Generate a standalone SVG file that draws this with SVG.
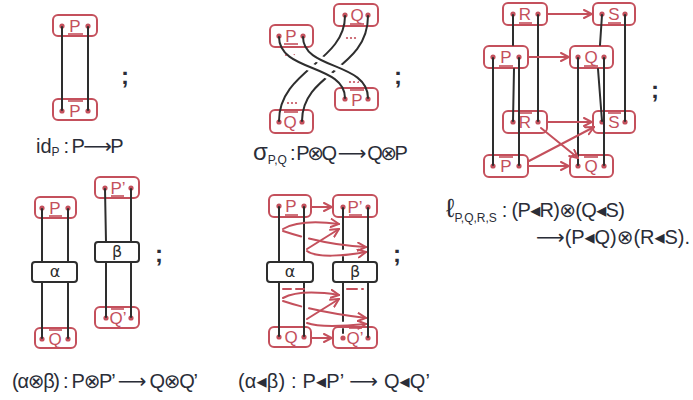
<svg xmlns="http://www.w3.org/2000/svg" width="693" height="400" viewBox="0 0 693 400">
<defs>
<style>
.box{fill:#fff;stroke:#c4505c;stroke-width:2}
.mbox{fill:#fff;stroke:#2e2e2e;stroke-width:2}
.dot{fill:#c4505c}
.lbl{fill:#c4505c;font-family:"Liberation Sans","DejaVu Sans",sans-serif;font-size:17px;text-anchor:middle}
.mlbl{fill:#2e2e2e;font-family:"DejaVu Sans","Liberation Sans",sans-serif;font-size:16px;text-anchor:middle}
.bar{stroke:#c4505c;stroke-width:1.6}
.wire{fill:none;stroke:#2e2e2e;stroke-width:2;stroke-linecap:round}
.halo{fill:none;stroke:#fff;stroke-width:8;stroke-linecap:butt}
.arr{fill:none;stroke:#c4505c;stroke-width:2;stroke-linecap:round;marker-end:url(#ah)}
.red{fill:none;stroke:#c4505c;stroke-width:2;stroke-linecap:round}
.txt{fill:#2a2d38;font-family:"Liberation Sans","DejaVu Sans",sans-serif;font-size:20px}
.semi{fill:#2a2d38;font-family:"Liberation Sans","DejaVu Sans",sans-serif;font-size:24px;font-weight:bold}
</style>
<marker id="ah" viewBox="0 0 10 10" refX="9" refY="5" markerWidth="10" markerHeight="10" markerUnits="userSpaceOnUse" orient="auto">
<path d="M1,1 L9,5 L1,9" fill="none" stroke="#c4505c" stroke-width="2" stroke-linecap="round"/>
</marker>
</defs>
<rect width="693" height="400" fill="#fff"/>

<!-- ===== Identity ===== -->
<g id="id-top"><rect class="box" x="53" y="15" width="44" height="21" rx="5"/><circle class="dot" cx="62" cy="26" r="2.6"/><circle class="dot" cx="88" cy="26" r="2.6"/><text class="lbl" x="75" y="32">P</text><line class="bar" x1="68" y1="34" x2="83" y2="34"/></g>
<g id="id-bot"><rect class="box" x="53" y="99" width="44" height="21" rx="5"/><circle class="dot" cx="62" cy="111" r="2.6"/><circle class="dot" cx="88" cy="111" r="2.6"/><text class="lbl" x="75" y="117">P</text><line class="bar" x1="68" y1="101" x2="83" y2="101"/></g>

<!-- ===== Braid ===== -->
<g id="br-ptop"><rect class="box" x="270" y="25" width="43" height="22" rx="5"/><circle class="dot" cx="279" cy="36" r="2.6"/><circle class="dot" cx="303" cy="36" r="2.6"/><text class="lbl" x="291" y="42">P</text><line class="bar" x1="284" y1="44" x2="298" y2="44"/>
<g class="dot"><circle cx="286" cy="55" r="1.1"/><circle cx="290" cy="55" r="1.1"/><circle cx="294" cy="55" r="1.1"/></g></g>
<g id="br-qtop"><rect class="box" x="334" y="4" width="44" height="22" rx="5"/><circle class="dot" cx="345" cy="15" r="2.6"/><circle class="dot" cx="368" cy="15" r="2.6"/><text class="lbl" x="357" y="21">Q</text><line class="bar" x1="350" y1="24" x2="364" y2="24"/>
<g class="dot"><circle cx="347" cy="38" r="1.1"/><circle cx="351" cy="38" r="1.1"/><circle cx="355" cy="38" r="1.1"/></g></g>
<g id="br-pbot"><rect class="box" x="335" y="88" width="43" height="22" rx="5"/><circle class="dot" cx="345" cy="99" r="2.6"/><circle class="dot" cx="368" cy="99" r="2.6"/><text class="lbl" x="357" y="106">P</text><line class="bar" x1="350" y1="90" x2="364" y2="90"/>
<g class="dot"><circle cx="350" cy="82" r="1.1"/><circle cx="354" cy="82" r="1.1"/><circle cx="358" cy="82" r="1.1"/></g></g>
<g id="br-qbot"><rect class="box" x="270" y="110" width="43" height="23" rx="5"/><circle class="dot" cx="279" cy="122" r="2.6"/><circle class="dot" cx="302" cy="122" r="2.6"/><text class="lbl" x="290" y="128">Q</text><line class="bar" x1="284" y1="112" x2="298" y2="112"/>
<g class="dot"><circle cx="288" cy="103" r="1.1"/><circle cx="292" cy="103" r="1.1"/><circle cx="296" cy="103" r="1.1"/></g></g>

<!-- ===== Top-right ===== -->
<g id="tr-r1"><rect class="box" x="503" y="3" width="44" height="22" rx="5"/><circle class="dot" cx="513" cy="14" r="2.6"/><circle class="dot" cx="538" cy="14" r="2.6"/><text class="lbl" x="525" y="20">R</text><line class="bar" x1="519" y1="23" x2="532" y2="23"/></g>
<g id="tr-s1"><rect class="box" x="593" y="3" width="42" height="22" rx="5"/><circle class="dot" cx="602" cy="14" r="2.6"/><circle class="dot" cx="625" cy="14" r="2.6"/><text class="lbl" x="614" y="20">S</text><line class="bar" x1="608" y1="23" x2="621" y2="23"/></g>
<g id="tr-p1"><rect class="box" x="484" y="46" width="44" height="22" rx="5"/><circle class="dot" cx="493" cy="57" r="2.6"/><circle class="dot" cx="519" cy="57" r="2.6"/><text class="lbl" x="506" y="63">P</text><line class="bar" x1="499" y1="66" x2="513" y2="66"/></g>
<g id="tr-q1"><rect class="box" x="570" y="46" width="43" height="22" rx="5"/><circle class="dot" cx="578" cy="57" r="2.6"/><circle class="dot" cx="604" cy="57" r="2.6"/><text class="lbl" x="591" y="63">Q</text><line class="bar" x1="584" y1="66" x2="598" y2="66"/></g>
<g id="tr-r2"><rect class="box" x="503" y="111" width="44" height="22" rx="5"/><circle class="dot" cx="513" cy="122" r="2.6"/><circle class="dot" cx="538" cy="122" r="2.6"/><text class="lbl" x="525" y="128">R</text><line class="bar" x1="519" y1="113" x2="532" y2="113"/></g>
<g id="tr-s2"><rect class="box" x="593" y="111" width="42" height="22" rx="5"/><circle class="dot" cx="602" cy="122" r="2.6"/><circle class="dot" cx="625" cy="122" r="2.6"/><text class="lbl" x="614" y="128">S</text><line class="bar" x1="608" y1="113" x2="621" y2="113"/></g>
<g id="tr-p2"><rect class="box" x="484" y="155" width="44" height="22" rx="5"/><circle class="dot" cx="493" cy="166" r="2.6"/><circle class="dot" cx="519" cy="166" r="2.6"/><text class="lbl" x="506" y="172">P</text><line class="bar" x1="499" y1="157" x2="513" y2="157"/></g>
<g id="tr-q2"><rect class="box" x="570" y="155" width="43" height="22" rx="5"/><circle class="dot" cx="578" cy="166" r="2.6"/><circle class="dot" cx="604" cy="166" r="2.6"/><text class="lbl" x="591" y="172">Q</text><line class="bar" x1="584" y1="157" x2="598" y2="157"/></g>

<!-- ===== Bottom-left ===== -->
<g id="bl-p"><rect class="box" x="35" y="197" width="41" height="21" rx="5"/><circle class="dot" cx="42" cy="208" r="2.6"/><circle class="dot" cx="68" cy="208" r="2.6"/><text class="lbl" x="55" y="214">P</text><line class="bar" x1="49" y1="216" x2="62" y2="216"/></g>
<g id="bl-alpha"><rect class="mbox" x="32" y="262" width="45" height="20" rx="3"/><text class="mlbl" x="55" y="277">α</text></g>
<g id="bl-q"><rect class="box" x="35" y="328" width="41" height="20" rx="5"/><circle class="dot" cx="42" cy="339" r="2.6"/><circle class="dot" cx="68" cy="339" r="2.6"/><text class="lbl" x="55" y="345">Q</text><line class="bar" x1="49" y1="330" x2="62" y2="330"/></g>
<g id="bl-pp"><rect class="box" x="95" y="177" width="44" height="21" rx="5"/><circle class="dot" cx="105" cy="188" r="2.6"/><circle class="dot" cx="131" cy="188" r="2.6"/><text class="lbl" x="118" y="194">P’</text><line class="bar" x1="111" y1="196" x2="124" y2="196"/></g>
<g id="bl-beta"><rect class="mbox" x="95" y="242" width="44" height="20" rx="3"/><text class="mlbl" x="117" y="257">β</text></g>
<g id="bl-qq"><rect class="box" x="95" y="307" width="44" height="21" rx="5"/><circle class="dot" cx="106" cy="318" r="2.6"/><circle class="dot" cx="131" cy="318" r="2.6"/><text class="lbl" x="118" y="324">Q’</text><line class="bar" x1="111" y1="309" x2="124" y2="309"/></g>

<!-- ===== Bottom-middle ===== -->
<g id="bm-p"><rect class="box" x="269" y="195" width="42" height="22" rx="5"/><circle class="dot" cx="279" cy="206" r="2.6"/><circle class="dot" cx="304" cy="206" r="2.6"/><text class="lbl" x="291" y="212">P</text><line class="bar" x1="285" y1="215" x2="298" y2="215"/></g>
<g id="bm-pp"><rect class="box" x="333" y="195" width="44" height="22" rx="5"/><circle class="dot" cx="343" cy="207" r="2.6"/><circle class="dot" cx="368" cy="207" r="2.6"/><text class="lbl" x="355" y="213">P’</text><line class="bar" x1="349" y1="215" x2="362" y2="215"/></g>
<g id="bm-alpha"><rect class="mbox" x="267" y="262" width="46" height="20" rx="3"/><text class="mlbl" x="290" y="277">α</text></g>
<g id="bm-beta"><rect class="mbox" x="333" y="262" width="44" height="20" rx="3"/><text class="mlbl" x="355" y="277">β</text></g>
<g id="bm-q"><rect class="box" x="269" y="327" width="42" height="20" rx="5"/><circle class="dot" cx="279" cy="337" r="2.6"/><circle class="dot" cx="304" cy="337" r="2.6"/><text class="lbl" x="291" y="343">Q</text><line class="bar" x1="285" y1="327" x2="298" y2="327"/></g>
<g id="bm-qq"><rect class="box" x="333" y="327" width="44" height="21" rx="5"/><circle class="dot" cx="343" cy="338" r="2.6"/><circle class="dot" cx="368" cy="338" r="2.6"/><text class="lbl" x="355" y="344">Q’</text><line class="bar" x1="349" y1="328" x2="362" y2="328"/></g>

<!-- ===== Connectors ===== -->
<g id="connectors">
<!-- identity -->
<line class="wire" x1="62" y1="27" x2="62" y2="110"/>
<line class="wire" x1="88" y1="27" x2="88" y2="110"/>
<!-- braid: Q strands (under) -->
<path class="wire" d="M345,16 C345,62 279,70 279,121"/>
<path class="wire" d="M368,16 C368,70 302,72 302,121"/>
<!-- braid: P strands (over) -->
<path class="halo" pathLength="100" stroke-dasharray="0 22 56 100" d="M279,37 C279,72 345,64 345,98"/>
<path class="halo" pathLength="100" stroke-dasharray="0 22 56 100" d="M303,37 C303,70 368,62 368,98"/>
<path class="wire" d="M279,37 C279,72 345,64 345,98"/>
<path class="wire" d="M303,37 C303,70 368,62 368,98"/>
<!-- top-right wires -->
<line class="wire" x1="513" y1="15" x2="513" y2="45"/>
<line class="wire" x1="514" y1="69" x2="513" y2="121"/>
<line class="wire" x1="538" y1="15" x2="538" y2="121"/>
<line class="wire" x1="602" y1="15" x2="600" y2="45"/>
<line class="wire" x1="598" y1="69" x2="602" y2="121"/>
<line class="wire" x1="625" y1="15" x2="625" y2="121"/>
<line class="wire" x1="493" y1="58" x2="493" y2="165"/>
<line class="wire" x1="519" y1="58" x2="519" y2="165"/>
<line class="wire" x1="578" y1="58" x2="578" y2="165"/>
<line class="wire" x1="604" y1="58" x2="604" y2="165"/>
<!-- top-right red arrows -->
<path class="arr" d="M548,14 L592,14"/>
<path class="arr" d="M529,57 L569,57"/>
<path class="arr" d="M548,122 L592,122"/>
<path class="arr" d="M541,128 L578,158"/>
<path class="arr" d="M529,166 L569,166"/>
<path class="arr" d="M529,161 L594,127"/>
<!-- bottom-left wires -->
<line class="wire" x1="42" y1="209" x2="42" y2="262"/>
<line class="wire" x1="68" y1="209" x2="68" y2="262"/>
<line class="wire" x1="42" y1="282" x2="42" y2="338"/>
<line class="wire" x1="68" y1="282" x2="68" y2="338"/>
<line class="wire" x1="105" y1="189" x2="106" y2="242"/>
<line class="wire" x1="131" y1="189" x2="131" y2="242"/>
<line class="wire" x1="106" y1="262" x2="106" y2="317"/>
<line class="wire" x1="131" y1="262" x2="131" y2="317"/>
<!-- bottom-middle wires -->
<line class="wire" x1="279" y1="207" x2="279" y2="262"/>
<line class="wire" x1="304" y1="207" x2="304" y2="262"/>
<line class="wire" x1="343" y1="208" x2="343" y2="249"/>
<line class="wire" x1="343" y1="257" x2="343" y2="262"/>
<line class="wire" x1="368" y1="208" x2="368" y2="262"/>
<line class="wire" x1="279" y1="282" x2="279" y2="336"/>
<line class="wire" x1="304" y1="282" x2="304" y2="336"/>
<line class="wire" x1="343" y1="282" x2="343" y2="321"/>
<line class="wire" x1="343" y1="329" x2="343" y2="333"/>
<line class="wire" x1="368" y1="282" x2="368" y2="337"/>
<!-- bottom-middle red arrows (upper) -->
<path class="arr" d="M312,207 L332,207"/>
<path class="arr" d="M283,229 Q300,219 339,224"/>
<path class="arr" stroke-dasharray="19 8 300" d="M283,231 C310,240 340,246 366,247"/>
<path class="arr" d="M307,249 L339,229"/>
<path class="arr" d="M307,251 C316,258 345,256 366,252"/>
<!-- bottom-middle red arrows (lower) -->
<path class="red" stroke-dasharray="8 5" d="M283,289 L304,289"/>
<path class="red" stroke-dasharray="10 5" d="M347,289 L363,289"/>
<path class="arr" d="M283,298 Q300,289 339,295"/>
<path class="arr" stroke-dasharray="19 8 300" d="M283,301 C310,310 340,315 366,318"/>
<path class="arr" d="M307,319 L339,299"/>
<path class="arr" d="M307,323 C318,327 345,326 366,324"/>
<path class="arr" d="M312,338 L332,338"/>
</g>

<!-- ===== Semicolons ===== -->
<g id="semicolons">
<text class="semi" x="121" y="84">;</text>
<text class="semi" x="394" y="84">;</text>
<text class="semi" x="651" y="98">;</text>
<text class="semi" x="155" y="262">;</text>
<text class="semi" x="393" y="262">;</text>
</g>

<!-- ===== Labels ===== -->
<g id="labels">
<text class="txt" x="36" y="153">id<tspan font-size="12" dy="3">P</tspan><tspan dy="-3" textLength="64" lengthAdjust="spacing"> : P⟶P</tspan></text>
<text class="txt" x="253" y="160"><tspan font-size="24">σ</tspan><tspan font-size="12" dy="4">P,Q</tspan><tspan dy="-4" textLength="121" lengthAdjust="spacing"> : P⊗Q ⟶ Q⊗P</tspan></text>
<text class="txt" x="446" y="217"><tspan font-size="26">ℓ</tspan><tspan font-size="12" dy="5">P,Q,R,S</tspan><tspan dy="-5" textLength="128" lengthAdjust="spacing"> : (P◂R)⊗(Q◂S)</tspan></text>
<text class="txt" x="536" y="244" textLength="154" lengthAdjust="spacing">⟶(P◂Q)⊗(R◂S).</text>
<text class="txt" x="12" y="388" textLength="186" lengthAdjust="spacing">(α⊗β) : P⊗P’ ⟶ Q⊗Q’</text>
<text class="txt" x="238" y="388" textLength="192" lengthAdjust="spacing">(α◂β) : P◂P’ ⟶ Q◂Q’</text>
</g>
</svg>
